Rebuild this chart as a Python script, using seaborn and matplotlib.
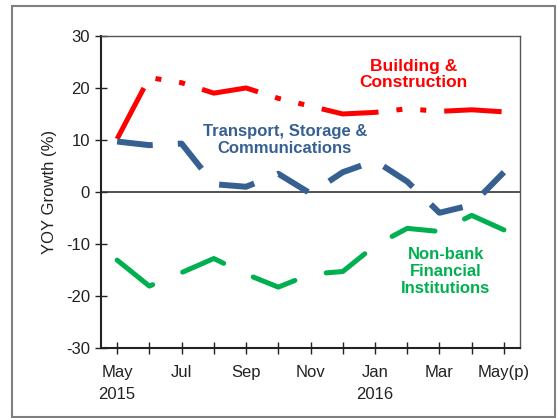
import matplotlib
matplotlib.use("Agg")
import matplotlib.pyplot as plt
import numpy as np
import pandas as pd
import seaborn as sns
from matplotlib.patches import Rectangle

# month index along the x axis, May 2015 .. May 2016
months = ["May", "Jun", "Jul", "Aug", "Sep", "Oct", "Nov", "Dec",
          "Jan", "Feb", "Mar", "Apr", "May(p)"]
tick_labels = ["May\n2015", "", "Jul", "", "Sep", "", "Nov", "",
               "Jan\n2016", "", "Mar", "", "May(p)"]

building = [10.2, 22.0, 21.0, 19.0, 20.0, 18.0, 16.5, 15.0, 15.3, 16.0, 15.5, 15.8, 15.4]
transport = [9.7, 9.0, 9.3, 1.5, 1.0, 3.5, -0.3, 3.8, 6.0, 2.0, -4.0, -2.5, 3.8]
nonbank = [-13.1, -18.1, -15.5, -12.8, -15.8, -18.3, -15.8, -15.3, -10.3, -7.0, -7.6, -4.5, -7.3]

sns.set_style("white")
plt.rcParams["font.family"] = ["Liberation Sans", "DejaVu Sans"]
plt.rcParams["axes.unicode_minus"] = False

df = pd.DataFrame({
    "idx": np.arange(len(months)),
    "building": building,
    "transport": transport,
    "nonbank": nonbank,
})

fig = plt.figure(figsize=(5.58, 4.18), dpi=100)
ax = fig.add_axes([0.181, 0.1675, 0.751, 0.7465])

# outer frame around the whole chart
fig.patches.append(Rectangle((12 / 558, 0.002), 543 / 558, 0.984,
                             transform=fig.transFigure, fill=False,
                             edgecolor="#7f7f7f", linewidth=1.5))

ax.axhline(0, color="#333333", linewidth=1.2, zorder=1)

series = [
    ("building", "#ff0000", 3.6, (11.5, 3.6, 1.2, 3.6, 1.2, 3.6), "butt"),
    ("transport", "#376092", 4.3, (6.0, 4.2), "butt"),
    ("nonbank", "#00b050", 3.6, (9.0, 6.5), "round"),
]
for col, color, lw, dash, cap in series:
    sns.lineplot(data=df, x="idx", y=col, ax=ax, color=color, linewidth=lw)
    line = ax.lines[-1]
    line.set_dashes(dash)
    line.set_dash_capstyle(cap)
    line.set_solid_joinstyle("miter")
    line.set_zorder(3)

ax.text(9.2, 22.6, "Building &\nConstruction", color="#ff0000",
        fontsize=12.5, fontweight="bold", ha="center", va="center",
        linespacing=1.15)
ax.text(5.2, 10.0, "Transport, Storage &\nCommunications", color="#376092",
        fontsize=12, fontweight="bold", ha="center", va="center",
        linespacing=1.15)
ax.text(10.2, -15.3, "Non-bank\nFinancial\nInstitutions", color="#00b050",
        fontsize=12, fontweight="bold", ha="center", va="center",
        linespacing=1.15)

ax.set_xlim(-0.5, len(months) - 0.5)
ax.set_ylim(-30, 30)
ax.set_yticks(range(-30, 31, 10))
ax.set_xticks(df["idx"])
ax.set_xticklabels(tick_labels, linespacing=1.6, va="top")
ax.set_xlabel("")
ax.set_ylabel("YOY Growth (%)", fontsize=12, color="#222222", labelpad=6)

ax.tick_params(axis="both", direction="inout", length=8, width=1,
               color="#222222", labelsize=12, labelcolor="#222222",
               left=True, bottom=True)
ax.tick_params(axis="x", pad=8)
ax.tick_params(axis="y", pad=4)

for side in ["left", "bottom"]:
    ax.spines[side].set_color("#222222")
    ax.spines[side].set_linewidth(1.5)
for side in ["top", "right"]:
    ax.spines[side].set_color("#555555")
    ax.spines[side].set_linewidth(1.0)

fig.savefig("out.png", dpi=100)
